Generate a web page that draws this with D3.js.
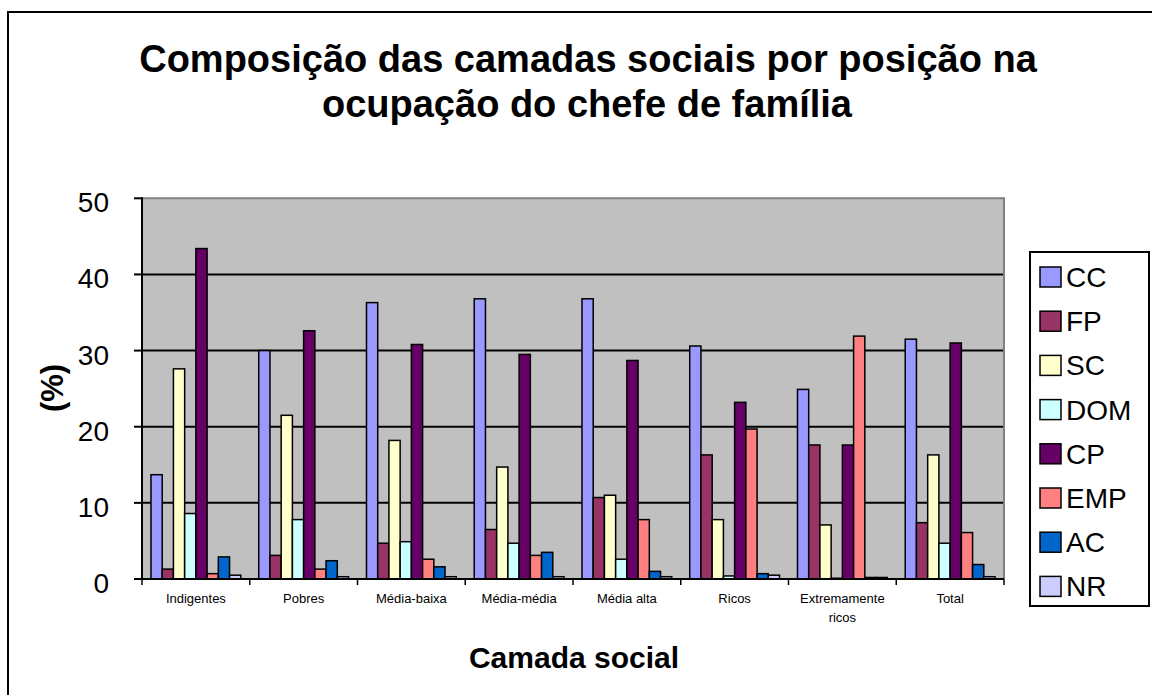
<!DOCTYPE html>
<html><head><meta charset="utf-8">
<script src="https://cdn.jsdelivr.net/npm/d3@7"></script>
<style>html,body{margin:0;padding:0;background:#fff;}svg{display:block;font-family:Arial,"Liberation Sans",sans-serif;}</style>
</head><body>
<svg id="c" width="1152" height="695"></svg>
<script>
const categories = ["Indigentes","Pobres","Média-baixa","Média-média","Média alta","Ricos","Extremamente\nricos","Total"];
const seriesNames = ["CC","FP","SC","DOM","CP","EMP","AC","NR"];
const seriesColors = ["#9999FF","#993366","#FFFFCC","#CCFFFF","#660066","#FF8080","#0066CC","#CCCCFF"];
const CC  = [13.7, 30.0, 36.3, 36.8, 36.8, 30.6, 24.9, 31.5];
const FP  = [1.3, 3.1, 4.7, 6.5, 10.7, 16.3, 17.6, 7.4];
const SC  = [27.6, 21.5, 18.2, 14.7, 11.0, 7.8, 7.1, 16.3];
const DOM = [8.6, 7.8, 4.9, 4.7, 2.6, 0.4, 0.1, 4.7];
const CP  = [43.4, 32.6, 30.8, 29.5, 28.7, 23.2, 17.6, 31.0];
const EMP = [0.7, 1.3, 2.6, 3.1, 7.8, 19.7, 31.9, 6.1];
const AC  = [2.9, 2.4, 1.6, 3.5, 1.0, 0.7, 0.2, 1.9];
const NR  = [0.5, 0.3, 0.3, 0.3, 0.3, 0.5, 0.2, 0.3];
const yTicks = [0,10,20,30,40,50];
const titleLines = ["Composição das camadas sociais por posição na","ocupação do chefe de família"];
const xTitle = "Camada social";
const yTitle = "(%)";

const seriesData = [CC,FP,SC,DOM,CP,EMP,AC,NR];
const svg = d3.select("#c");
const L=142, R=1004, T=198.3, B=579;

// outer border
svg.append("rect").attr("x",8).attr("y",12).attr("width",1160).attr("height",700)
  .attr("fill","#fff").attr("stroke","#000").attr("stroke-width",2);

const x0 = d3.scaleBand().domain(categories).range([L,R]).paddingInner(0).paddingOuter(0);
const x1 = d3.scaleBand().domain(seriesNames).range([0,x0.bandwidth()]).paddingInner(0).paddingOuter(0.8);
const y = d3.scaleLinear().domain([0,50]).range([B,T]);

// plot background
svg.append("rect").attr("x",L).attr("y",T).attr("width",R-L).attr("height",B-T).attr("fill","#C0C0C0");
// gridlines
svg.append("g").selectAll("line").data(yTicks.filter(d=>d>0 && d<50)).join("line")
  .attr("x1",L).attr("x2",R).attr("y1",d=>y(d)).attr("y2",d=>y(d))
  .attr("stroke","#000").attr("stroke-width",2);
// top/right border gray
svg.append("path").attr("d",`M${L},${T}H${R}V${B}`).attr("fill","none").attr("stroke","#808080").attr("stroke-width",2);

// bars
const groups = svg.append("g").selectAll("g").data(categories).join("g")
  .attr("transform",d=>`translate(${x0(d)},0)`);
groups.selectAll("rect").data((c,ci)=>seriesNames.map((s,si)=>({s,si,v:seriesData[si][ci]}))).join("rect")
  .attr("x",d=>x1(d.s)).attr("width",x1.bandwidth())
  .attr("y",d=>y(d.v)).attr("height",d=>B-y(d.v))
  .attr("fill",d=>seriesColors[d.si]).attr("stroke","#000").attr("stroke-width",1.5);

// y axis
const yAxis = svg.append("g");
yAxis.append("line").attr("x1",L).attr("x2",L).attr("y1",T-1).attr("y2",B+1).attr("stroke","#000").attr("stroke-width",2);
yAxis.selectAll("line.t").data(yTicks).join("line").attr("class","t")
  .attr("x1",L-8).attr("x2",L).attr("y1",d=>y(d)).attr("y2",d=>y(d)).attr("stroke","#000").attr("stroke-width",2);
yAxis.selectAll("text").data(yTicks).join("text")
  .attr("x",109).attr("y",d=>y(d)+14).attr("text-anchor","end")
  .attr("font-size",28).attr("fill","#000").text(d=>d);

// x axis
const xAxis = svg.append("g");
xAxis.append("line").attr("x1",L).attr("x2",R).attr("y1",B).attr("y2",B).attr("stroke","#000").attr("stroke-width",2);
const bounds = categories.map(c=>x0(c)).concat([R]);
xAxis.selectAll("line.t").data(bounds).join("line").attr("class","t")
  .attr("x1",d=>d).attr("x2",d=>d).attr("y1",B).attr("y2",B+6).attr("stroke","#000").attr("stroke-width",1.5);
xAxis.selectAll("text").data(categories).join("text")
  .attr("x",d=>x0(d)+x0.bandwidth()/2).attr("y",603).attr("text-anchor","middle")
  .attr("font-size",13).attr("fill","#000")
  .each(function(d){
    const lines=d.split("\n");
    d3.select(this).selectAll("tspan").data(lines).join("tspan")
      .attr("x",x0(d)+x0.bandwidth()/2).attr("dy",(l,i)=>i?19:0).text(l=>l);
  });

// titles
svg.append("text").attr("x",588).attr("y",72).attr("text-anchor","middle")
  .attr("font-size",38).attr("font-weight","bold").text(titleLines[0]);
svg.append("text").attr("x",587).attr("y",117).attr("text-anchor","middle")
  .attr("font-size",38).attr("font-weight","bold").text(titleLines[1]);
svg.append("text").attr("x",574).attr("y",668).attr("text-anchor","middle")
  .attr("font-size",30).attr("font-weight","bold").text(xTitle);
svg.append("text").attr("transform","translate(63,388) rotate(-90)").attr("text-anchor","middle")
  .attr("font-size",31).attr("font-weight","bold").text(yTitle);

// legend
const leg = svg.append("g");
leg.append("rect").attr("x",1030).attr("y",252).attr("width",119).attr("height",354)
  .attr("fill","#fff").attr("stroke","#000").attr("stroke-width",2);
const li = leg.selectAll("g").data(seriesNames).join("g")
  .attr("transform",(d,i)=>`translate(0,${277+i*44.2})`);
li.append("rect").attr("x",1040).attr("y",-10).attr("width",21).attr("height",20)
  .attr("fill",(d,i)=>seriesColors[i]).attr("stroke","#000").attr("stroke-width",1.5);
li.append("text").attr("x",1066).attr("y",10).attr("font-size",28).text(d=>d);
</script>
</body></html>
